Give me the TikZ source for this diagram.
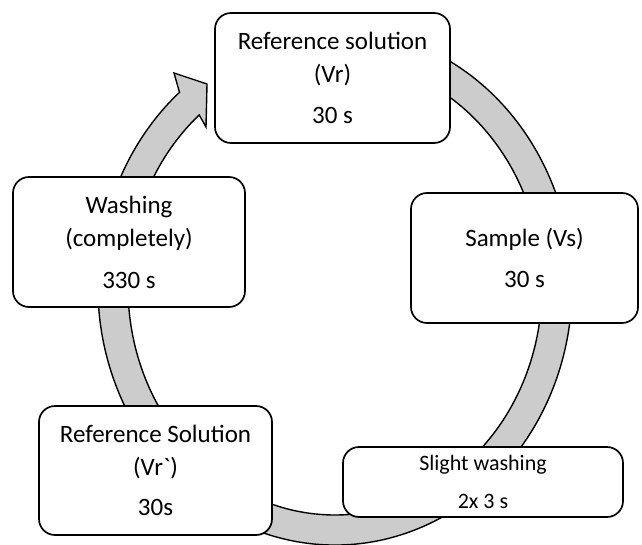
\documentclass[tikz,border=0pt]{standalone}
\usepackage{fontspec}
\setmainfont{Carlito}
\usetikzlibrary{positioning}
\definecolor{bandgray}{RGB}{204,204,204}
\tikzset{
  stage/.style={draw=black, line width=1.7pt, fill=white, rounded corners=16pt,
    align=center, inner sep=0pt, font=\fontsize{25}{33}\selectfont},
  band/.style={draw=black, line width=1.4pt, fill=bandgray, line join=miter}
}
\begin{document}
\begin{tikzpicture}[x=1pt,y=-1pt]
\useasboundingbox (0,0) rectangle (642,545);
% cycle arrow
\draw[band] ({335+237*cos(-75)},{287+258*sin(-75)})
  arc[start angle=-75, end angle=229, x radius=237, y radius=258]
  -- (174,73) -- (207,84) -- (206,127)
  -- ({335+207*cos(229)},{287+228*sin(229)})
  arc[start angle=229, end angle=-75, x radius=207, y radius=228] -- cycle;
% stages
\node[stage, minimum width=235pt, minimum height=130pt] (refsol) at (332.5,78)
  {Reference solution\\(Vr)\\[8pt]30 s};
\node[stage, minimum width=227pt, minimum height=130pt] (sample) at (524.5,258)
  {Sample (Vs)\\[8pt]30 s};
\node[stage, minimum width=280pt, minimum height=70pt, font=\fontsize{22}{30}\selectfont] (slight) at (483,482)
  {Slight washing\\[8pt]2x 3 s};
\node[stage, minimum width=233pt, minimum height=129pt] (refsolb) at (155.5,470.5)
  {Reference Solution\\(Vr\textasciigrave)\\[7pt]30s};
\node[stage, minimum width=232pt, minimum height=130pt] (washing) at (129,242)
  {Washing\\(completely)\\[9pt]330 s};
\end{tikzpicture}
\end{document}
